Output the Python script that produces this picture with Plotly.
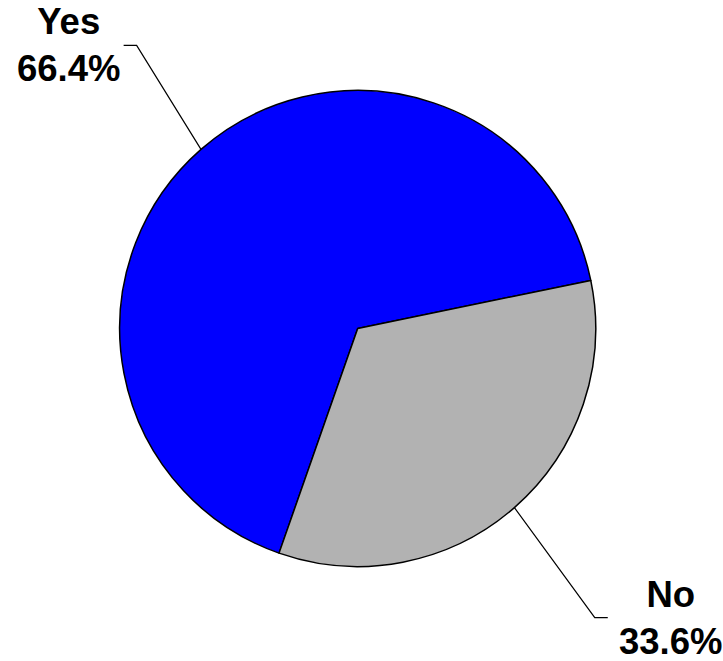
import math
import plotly.graph_objects as go

# ---- data ----
labels = ["Yes", "No"]
values = [66.4, 33.6]
pct_text = ["66.4%", "33.6%"]
colors = ["#0000FF", "#B2B2B2"]

# ---- layout geometry (pixels) ----
W, H = 723, 661
CX, CY, R = 357.7, 328.5, 238.0
ROTATION = 199.3          # compass degrees where first slice starts
ELBOW_K = 1.54            # elbow radius as multiple of R
ELBOW_ROT = 2.5           # extra compass rotation of elbow
ELBOW_SHIFT = (8.0, 3.0)  # px
TAIL = 13.0               # horizontal leader tail length, px
GAP = 5.0                 # gap between tail and label, px
LABEL_DX = 4.0            # constant horizontal label nudge, px
FONT = dict(family="Liberation Sans, Arial, sans-serif", size=36.5, color="black")


def px(x):
    return x / W


def py(y):
    return 1 - y / H


fig = go.Figure(go.Pie(
    labels=labels, values=values, sort=False, direction="clockwise",
    rotation=ROTATION,
    marker=dict(colors=colors, line=dict(color="black", width=1.5)),
    textinfo="none", hoverinfo="label+percent", showlegend=False,
    domain=dict(x=[px(CX - R), px(CX + R)], y=[py(CY + R), py(CY - R)]),
))

total = sum(values)
cum = 0.0
shapes, annotations = [], []
for lab, v, pt in zip(labels, values, pct_text):
    start = ROTATION + 360.0 * cum / total
    cum += v
    end = ROTATION + 360.0 * cum / total
    mid = math.radians((start + end) / 2)
    x0 = CX + R * math.sin(mid)
    y0 = CY - R * math.cos(mid)
    em = mid + math.radians(ELBOW_ROT)
    x1 = CX + ELBOW_K * R * math.sin(em) + ELBOW_SHIFT[0]
    y1 = CY - ELBOW_K * R * math.cos(em) + ELBOW_SHIFT[1]
    side = 1 if math.sin(mid) > 0 else -1
    x2 = x1 + side * TAIL
    shapes.append(dict(
        type="path", xref="paper", yref="paper",
        path=f"M {px(x0)},{py(y0)} L {px(x1)},{py(y1)} L {px(x2)},{py(y1)}",
        line=dict(color="black", width=1.2),
    ))
    annotations.append(dict(
        xref="paper", yref="paper",
        x=px(x2 + side * GAP + LABEL_DX), y=py(y1),
        xanchor="left" if side > 0 else "right", yanchor="middle",
        text=f"<b>{lab}</b><br><b>{pt}</b>", align="center",
        showarrow=False, font=FONT,
    ))

fig.update_layout(
    width=W, height=H,
    margin=dict(l=0, r=0, t=0, b=0),
    paper_bgcolor="white", plot_bgcolor="white",
    shapes=shapes, annotations=annotations,
)

fig.write_html(
    "out.html",
    config={"displayModeBar": False},
    post_script="document.body.style.margin='0';document.body.style.overflow='hidden';",
)
